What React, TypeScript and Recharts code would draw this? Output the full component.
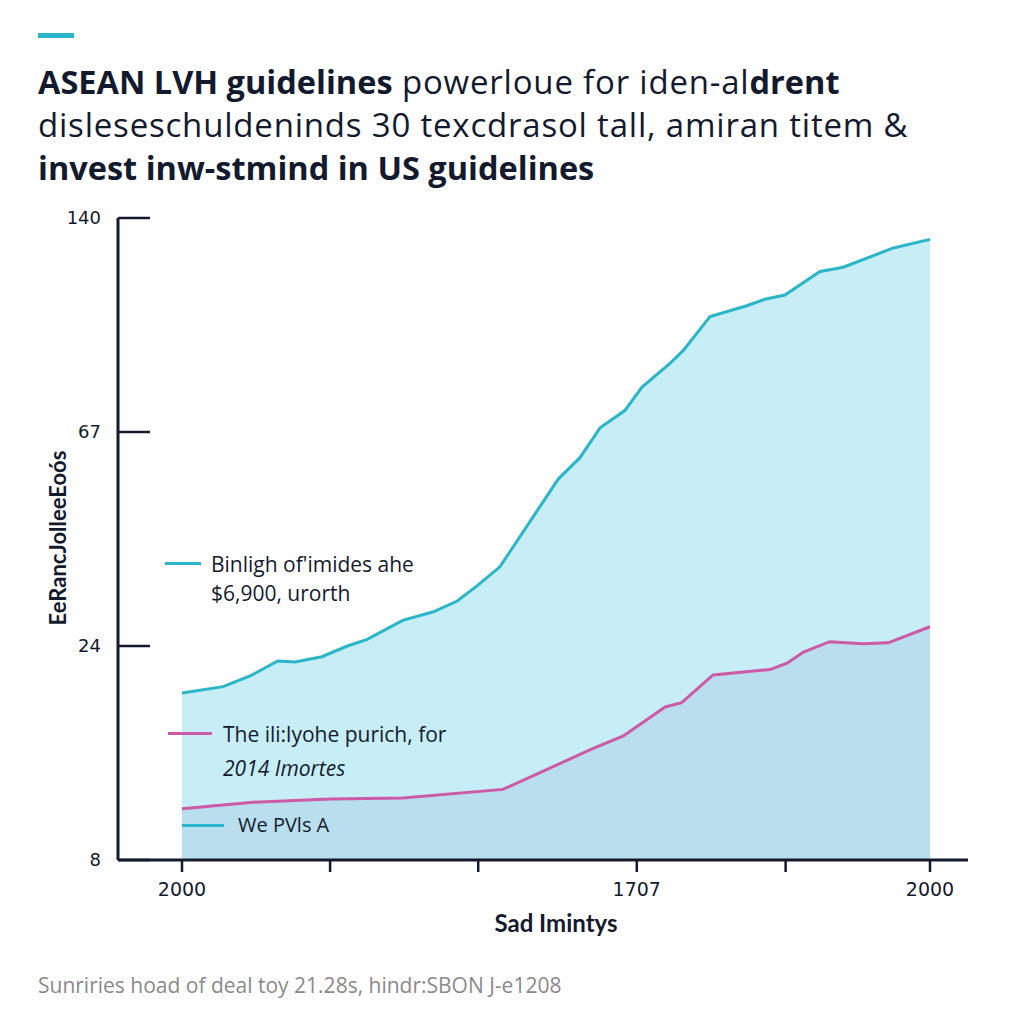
import React from "react";
import { ComposedChart, Area, XAxis, YAxis } from "recharts";

// x positions are in percent of the plotted span, y values in tick steps (8, 24, 67, 140)
const xTicks = [0, 19.8, 39.6, 60.8, 80.7, 100];
const xTickLabels = ["2000", "", "", "1707", "", "2000"];
const yTicks = [0, 1, 2, 3];
const yTickLabels = ["8", "24", "67", "140"];

const growthX = [0, 5.5, 9.1, 12.8, 15.1, 18.7, 22.1, 24.7, 29.5, 33.6, 36.8, 39.4, 42.5, 50.3, 53.2, 55.9, 59.2, 61.5, 65.2, 67.0, 70.6, 75.5, 77.9, 80.6, 85.3, 88.4, 95.1, 100];
const growthY = [0.78, 0.81, 0.86, 0.93, 0.925, 0.95, 1.0, 1.03, 1.12, 1.16, 1.21, 1.28, 1.37, 1.78, 1.88, 2.02, 2.1, 2.21, 2.32, 2.38, 2.54, 2.59, 2.62, 2.64, 2.75, 2.77, 2.86, 2.9];

const purchaseX = [0, 9.5, 19.8, 29.5, 42.9, 54.9, 59.0, 64.6, 66.8, 71.0, 78.6, 80.9, 83.0, 86.6, 91.0, 94.4, 100];
const purchaseY = [0.24, 0.27, 0.285, 0.29, 0.33, 0.52, 0.58, 0.715, 0.735, 0.865, 0.89, 0.92, 0.97, 1.02, 1.01, 1.015, 1.09];

const allX = Array.from(new Set([...growthX, ...purchaseX])).sort((a, b) => a - b);
const rows = allX.map((x) => {
  const g = growthX.indexOf(x);
  const p = purchaseX.indexOf(x);
  return {
    x,
    growth: g >= 0 ? growthY[g] : null,
    purchase: p >= 0 ? purchaseY[p] : null,
  };
});

const ink = "#141a2e";
const cyan = "#2bb5c9";
const pink = "#cc5aa6";
const sans = "'Open Sans', sans-serif";

const abs = (left: number, top: number, extra: React.CSSProperties = {}): React.CSSProperties => ({
  position: "absolute",
  left,
  top,
  whiteSpace: "nowrap",
  ...extra,
});

const Swatch = ({ left, top, width, color }: { left: number; top: number; width: number; color: string }) => (
  <div style={{ position: "absolute", left, top: top - 1.5, width, height: 3, background: color }} />
);

const bold: React.CSSProperties = { fontWeight: 700, fontSize: 32.5, letterSpacing: 0 };

const App = () => {
  return (
    <div style={{ position: "absolute", left: 0, top: 0, width: 1024, height: 1024, background: "#fff", fontFamily: sans, color: ink }}>
      <div style={{ position: "absolute", left: 38, top: 33, width: 36, height: 5, background: cyan }} />
      <div style={abs(38, 60, { fontSize: 33, letterSpacing: 0.8, lineHeight: "43px" })}>
        <div>
          <span style={bold}>ASEAN LVH guidelines</span> powerloue for iden-al<span style={bold}>drent</span>
        </div>
        <div>disleseschuldeninds 30 texcdrasol tall, amiran titem &amp;</div>
        <div>
          <span style={bold}>invest inw-stmind in US guidelines</span>
        </div>
      </div>

      <ComposedChart
        width={1024}
        height={1024}
        data={rows}
        margin={{ top: 218, right: 56, bottom: 104, left: 0 }}
        style={{ position: "absolute", left: 0, top: 0 }}
      >
        <XAxis
          dataKey="x"
          type="number"
          domain={[0, 100]}
          ticks={xTicks}
          interval={0}
          tickFormatter={(v: number) => xTickLabels[xTicks.indexOf(v)]}
          padding={{ left: 64, right: 38 }}
          height={60}
          axisLine={{ stroke: ink, strokeWidth: 3 }}
          tickLine={{ stroke: ink, strokeWidth: 2.5 }}
          tickSize={12}
          tickMargin={11}
          tick={{ fill: ink, fontSize: 19, fontFamily: "DejaVu Sans" }}
        />
        <YAxis
          type="number"
          domain={[0, 3]}
          ticks={yTicks}
          interval={0}
          tickFormatter={(v: number) => yTickLabels[v]}
          width={118}
          axisLine={{ stroke: ink, strokeWidth: 3 }}
          tickLine={{ stroke: ink, strokeWidth: 2.5 }}
          tickSize={-32}
          tickMargin={49}
          tick={{ fill: ink, fontSize: 18, fontFamily: "DejaVu Sans" }}
        />
        <Area
          dataKey="growth"
          type="linear"
          stroke={cyan}
          strokeWidth={3}
          fill="#c7eef7"
          fillOpacity={1}
          connectNulls
          dot={false}
          activeDot={false}
          isAnimationActive={false}
        />
        <Area
          dataKey="purchase"
          type="linear"
          stroke={pink}
          strokeWidth={3}
          fill="#a9c9e0"
          fillOpacity={0.45}
          connectNulls
          dot={false}
          activeDot={false}
          isAnimationActive={false}
        />
      </ComposedChart>

      <div
        style={{
          position: "absolute",
          left: 57,
          top: 538,
          transform: "translate(-50%, -50%) rotate(-90deg)",
          fontFamily: "Lato, sans-serif",
          fontWeight: 700,
          fontSize: 22,
          whiteSpace: "nowrap",
        }}
      >
        EeRancJolleeEoós
      </div>
      <div
        style={{
          position: "absolute",
          left: 556,
          top: 922,
          transform: "translate(-50%, -50%)",
          fontFamily: "Lato, sans-serif",
          fontWeight: 700,
          fontSize: 24,
          whiteSpace: "nowrap",
        }}
      >
        Sad Imintys
      </div>

      <Swatch left={165} top={563} width={36} color={cyan} />
      <div style={abs(211, 550, { fontSize: 21, lineHeight: "29px" })}>
        <div>Binligh of'imides ahe</div>
        <div>$6,900, urorth</div>
      </div>
      <Swatch left={168} top={733} width={44} color={pink} />
      <div style={abs(223, 717, { fontSize: 21, lineHeight: "34px" })}>
        <div>The ili:lyohe purich, for</div>
        <div style={{ fontStyle: "italic" }}>2014 Imortes</div>
      </div>
      <Swatch left={182} top={825} width={42} color={cyan} />
      <div style={abs(238, 811, { fontSize: 20, lineHeight: "28px" })}>We PVls A</div>

      <div style={abs(38, 969, { fontSize: 21, color: "#8a8a8a", lineHeight: "32px" })}>
        Sunriries hoad of deal toy 21.28s, hindr:SBON J-e1208
      </div>
    </div>
  );
};

export default App;
